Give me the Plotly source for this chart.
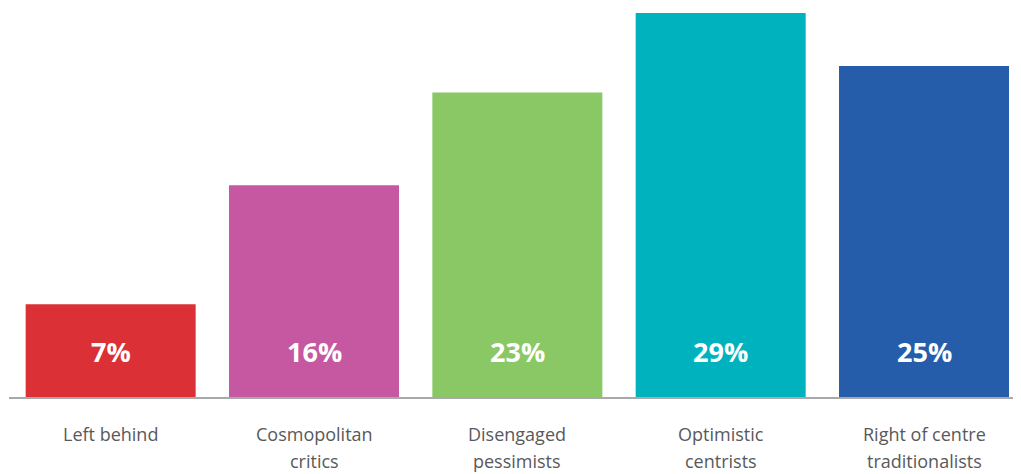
import plotly.graph_objects as go

segments = ["Left behind", "Cosmopolitan critics", "Disengaged pessimists",
            "Optimistic centrists", "Right of centre traditionalists"]
segment_lines = [["Left behind"], ["Cosmopolitan", "critics"], ["Disengaged", "pessimists"],
                 ["Optimistic", "centrists"], ["Right of centre", "traditionalists"]]
shares = [7, 16, 23, 29, 25]
bar_colors = ["#DA3036", "#C558A0", "#89C865", "#00B2BD", "#265DAB"]

label_y = 3.47  # value labels sit near the foot of each bar

fig = go.Figure()
fig.add_trace(go.Bar(
    x=list(range(len(segments))),
    y=shares,
    marker=dict(color=bar_colors, line=dict(width=0)),
    hoverinfo="skip",
))

for i, v in enumerate(shares):
    fig.add_annotation(
        x=i, y=label_y, text=f"{v}%", showarrow=False,
        font=dict(family="Open Sans", size=27, color="white", weight="bold"),
        xanchor="center", yanchor="middle",
    )

# category names below the axis, two lines with wider spacing than plotly's default
for i, lines in enumerate(segment_lines):
    for j, line in enumerate(lines):
        fig.add_annotation(
            x=i, xref="x", y=0, yref="paper", text=line, showarrow=False,
            font=dict(family="Open Sans", size=18, color="#58595B"),
            xanchor="center", yanchor="middle", yshift=-37 - 27 * j,
        )

# page body adds an 8px offset, so margins are trimmed to compensate
fig.update_layout(
    width=1021, height=474,
    margin=dict(l=1, r=8, t=5, b=85),
    paper_bgcolor="white", plot_bgcolor="white",
    bargap=0.164,
    showlegend=False,
)
fig.update_xaxes(
    range=[-0.5, 4.477],
    showticklabels=False, ticks="",
    showline=True, linecolor="#A7A9AC", linewidth=2,
    showgrid=False, zeroline=False,
)
fig.update_yaxes(range=[0, 29], visible=False, showgrid=False, zeroline=False)

fig.write_html("out.html")
